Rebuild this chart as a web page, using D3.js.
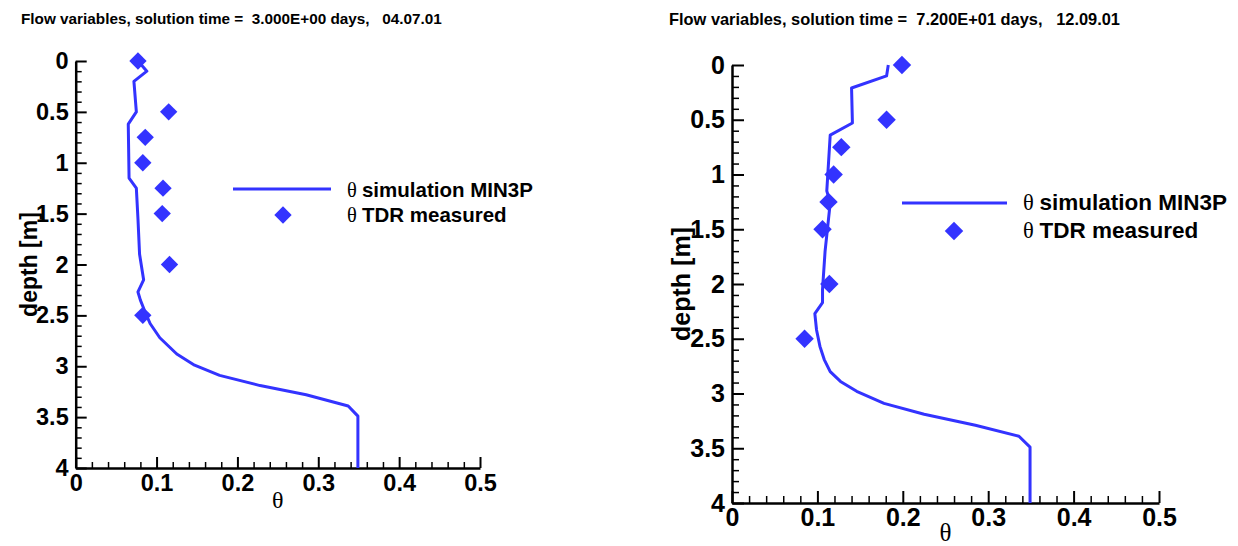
<!DOCTYPE html>
<html>
<head>
    <script src="https://d3js.org/d3.v7.min.js"></script>
    <style>
        body { margin: 0; background: #fff; }
        text { font-family: "Liberation Sans", Arial, sans-serif; font-weight: bold; }
        .greek { font-family: "Liberation Serif", "Times New Roman", serif; font-weight: normal; }
    </style>
</head>
<body>
<script>
// theta / depth pairs
var simLeft = [[0.077, 0], [0.088, 0.1], [0.072, 0.2], [0.075, 0.5], [0.065, 0.62], [0.066, 1.15],
    [0.075, 1.25], [0.077, 1.55], [0.079, 1.9], [0.084, 2.15], [0.077, 2.27], [0.080, 2.35],
    [0.085, 2.45], [0.092, 2.58], [0.104, 2.72], [0.125, 2.88], [0.147, 2.99], [0.178, 3.09],
    [0.228, 3.19], [0.285, 3.28], [0.337, 3.39], [0.349, 3.49], [0.349, 4.0]];
var tdrLeft = [[0.077, 0], [0.115, 0.5], [0.086, 0.75], [0.083, 1.0], [0.108, 1.25],
    [0.107, 1.5], [0.116, 2.0], [0.083, 2.5]];

var simRight = [[0.183, 0], [0.181, 0.1], [0.140, 0.21], [0.141, 0.53], [0.115, 0.64], [0.111, 1.15],
    [0.115, 1.26], [0.109, 1.7], [0.106, 2.05], [0.106, 2.17], [0.097, 2.27], [0.099, 2.42],
    [0.103, 2.57], [0.108, 2.69], [0.115, 2.8], [0.127, 2.89], [0.146, 2.98], [0.178, 3.09],
    [0.225, 3.19], [0.285, 3.29], [0.336, 3.39], [0.349, 3.49], [0.349, 4.0]];
var tdrRight = [[0.199, 0], [0.181, 0.5], [0.128, 0.75], [0.119, 1.0], [0.113, 1.25],
    [0.106, 1.5], [0.114, 2.0], [0.085, 2.5]];

var xTicks = [0, 0.1, 0.2, 0.3, 0.4, 0.5];
var xMinor = [0.02, 0.04, 0.06, 0.08, 0.12, 0.14, 0.16, 0.18, 0.22, 0.24, 0.26, 0.28,
    0.32, 0.34, 0.36, 0.38, 0.42, 0.44, 0.46, 0.48];
var yTicks = [0, 0.5, 1, 1.5, 2, 2.5, 3, 3.5, 4];
var yMinor = [0.1, 0.2, 0.3, 0.4, 0.6, 0.7, 0.8, 0.9, 1.1, 1.2, 1.3, 1.4, 1.6, 1.7, 1.8, 1.9,
    2.1, 2.2, 2.3, 2.4, 2.6, 2.7, 2.8, 2.9, 3.1, 3.2, 3.3, 3.4, 3.6, 3.7, 3.8, 3.9];

var titles = ["Flow variables, solution time =  3.000E+00 days,   04.07.01",
    "Flow variables, solution time =  7.200E+01 days,   12.09.01"];
var legendLabels = ["simulation MIN3P", "TDR measured"];

var blue = "#3333ff";

var svg = d3.select("body").append("svg")
    .attr("width", 1238)
    .attr("height", 546);

function drawPanel(p) {
    var x = d3.scaleLinear().domain([0, 0.5]).range([p.left, p.right]);
    var y = d3.scaleLinear().domain([0, 4]).range([p.top, p.bottom]);
    var g = svg.append("g");

    // title
    g.append("text")
        .attr("x", p.titleX).attr("y", p.titleY)
        .style("font-size", p.titleSize + "px")
        .style("white-space", "pre")
        .text(p.title);

    // minor ticks
    g.append("g").attr("transform", "translate(0," + p.bottom + ")")
        .call(d3.axisBottom(x).tickValues(xMinor).tickSize(-p.minor).tickFormat(""))
        .call(function(a) { a.select(".domain").remove(); })
        .selectAll("line").attr("stroke-width", 1.5);
    g.append("g").attr("transform", "translate(" + p.left + ",0)")
        .call(d3.axisLeft(y).tickValues(yMinor).tickSize(-p.minor).tickFormat(""))
        .call(function(a) { a.select(".domain").remove(); })
        .selectAll("line").attr("stroke-width", 1.5);

    // major axes
    var xa = g.append("g").attr("transform", "translate(0," + p.bottom + ")")
        .call(d3.axisBottom(x).tickValues(xTicks).tickSizeInner(-p.major).tickSizeOuter(0)
            .tickPadding(p.xPad).tickFormat(function(d) { return String(d); }));
    var ya = g.append("g").attr("transform", "translate(" + p.left + ",0)")
        .call(d3.axisLeft(y).tickValues(yTicks).tickSizeInner(-p.major).tickSizeOuter(0)
            .tickPadding(7).tickFormat(function(d) { return String(d); }));
    [xa, ya].forEach(function(a) {
        a.select(".domain").attr("stroke-width", 2.5);
        a.selectAll(".tick line").attr("stroke-width", 2);
        a.selectAll("text")
            .attr("fill", "#000")
            .style("font-family", "'Liberation Sans', Arial, sans-serif")
            .style("font-weight", "bold")
            .style("font-size", p.tickSize + "px");
    });

    // axis titles
    g.append("text")
        .attr("transform", "translate(" + p.yLabX + "," + (p.top + p.bottom) / 2 + ") rotate(-90)")
        .attr("text-anchor", "middle")
        .style("font-size", p.yLabSize + "px")
        .text("depth [m]");
    g.append("text").attr("class", "greek")
        .attr("x", x(0.25)).attr("y", p.thetaY)
        .attr("text-anchor", "middle")
        .style("font-size", p.thetaSize + "px")
        .text("θ");

    // simulated profile
    var line = d3.line().x(function(d) { return x(d[0]); }).y(function(d) { return y(d[1]); });
    g.append("path").datum(p.sim)
        .attr("d", line)
        .attr("fill", "none")
        .attr("stroke", blue)
        .attr("stroke-width", 3)
        .attr("stroke-linejoin", "round");

    // TDR points
    var diamond = d3.symbol().type(d3.symbolSquare).size(p.symSize);
    g.selectAll(".tdr").data(p.tdr).enter().append("path")
        .attr("class", "tdr")
        .attr("d", diamond)
        .attr("fill", blue)
        .attr("transform", function(d) {
            return "translate(" + x(d[0]) + "," + y(d[1]) + ") rotate(45)";
        });

    // legend
    var lg = p.legend;
    g.append("line")
        .attr("x1", lg.x1).attr("x2", lg.x2).attr("y1", lg.lineY).attr("y2", lg.lineY)
        .attr("stroke", blue).attr("stroke-width", 3);
    g.append("path")
        .attr("d", diamond)
        .attr("fill", blue)
        .attr("transform", "translate(" + lg.symX + "," + lg.symY + ") rotate(45)");
    legendLabels.forEach(function(lab, i) {
        var t = g.append("text")
            .attr("x", lg.textX).attr("y", lg.base[i])
            .style("font-size", lg.size + "px");
        t.append("tspan").attr("class", "greek").text("θ ");
        t.append("tspan").text(lab);
    });
}

drawPanel({
    left: 75.7, right: 480, top: 61, bottom: 468,
    title: titles[0], titleX: 21, titleY: 24, titleSize: 15.3,
    major: 11, minor: 6, xPad: 6, tickSize: 23.5,
    yLabX: 37, yLabSize: 23, thetaY: 508, thetaSize: 24,
    sim: simLeft, tdr: tdrLeft, symSize: 150,
    legend: { x1: 233, x2: 331, lineY: 189, symX: 283, symY: 215, textX: 347, base: [197, 222], size: 20.5 }
});

drawPanel({
    left: 732, right: 1159, top: 65, bottom: 503,
    title: titles[1], titleX: 669, titleY: 25, titleSize: 16.4,
    major: 12, minor: 7, xPad: 5, tickSize: 25,
    yLabX: 690, yLabSize: 25, thetaY: 541, thetaSize: 25,
    sim: simRight, tdr: tdrRight, symSize: 170,
    legend: { x1: 902, x2: 1007, lineY: 203, symX: 954, symY: 231, textX: 1023, base: [210, 238], size: 22.5 }
});
</script>
</body>
</html>
